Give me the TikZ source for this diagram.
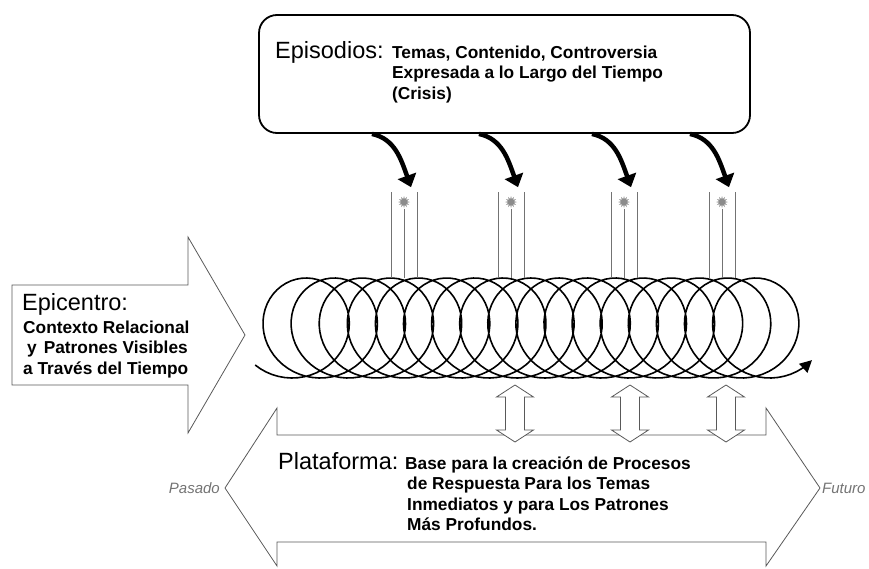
\documentclass[tikz,border=0pt]{standalone}
\usepackage{fontspec}
\setmainfont{Liberation Sans}
\usetikzlibrary{shapes.geometric,arrows.meta}

\begin{document}
\begin{tikzpicture}[x=1pt, y=-1pt,
    outline/.style={draw=black!65, line width=0.8pt},
    title/.style={inner sep=0pt, font=\fontsize{23.5}{26}\selectfont},
    body/.style={inner sep=0pt, font=\bfseries\fontsize{17.3}{20.5}\selectfont},
    tick/.style={draw=black!55, line width=0.8pt},
    burst/.style={star, star points=12, star point ratio=2, fill=black!45, minimum size=12pt, inner sep=0pt},
    hook/.style={line width=4.5pt, -{Triangle[length=12pt, width=19pt]}},
    side/.style={inner sep=0pt, text=black!55, font=\itshape\fontsize{15}{18}\selectfont}
]
    \useasboundingbox (0,0) rectangle (869,568);

    % platform and epicentre arrows
    \draw[outline] (225,488) -- (277,408) -- (277,435) -- (766,435) -- (766,408) -- (820,488)
        -- (766,566) -- (766,542) -- (277,542) -- (277,566) -- cycle;
    \draw[outline] (12,285) -- (188,285) -- (188,237) -- (245,335) -- (188,433) -- (188,385) -- (12,385) -- cycle;

    % episodes box
    \node[draw, line width=1.8pt, rounded corners=18pt, minimum width=491pt, minimum height=118pt] (box) at (504.5,74) {};
    \node[title, anchor=base west] (episodes) at (275,58) {Episodios:};
    \node[body, anchor=base west] (episodestext) at (392,58) {\setlength{\baselineskip}{23pt}\begin{tabular}[t]{@{}l@{}}Temas, Contenido, Controversia\\Expresada a lo Largo del Tiempo\\(Crisis)\end{tabular}};

    % coil
    \draw[line width=1.6pt, -{Triangle[length=12pt, width=12pt]}] plot[domain=-0.737:107.69, samples=900]
        ({292.1+4.472*\x+50*sin(\x r)}, {328+50*cos(\x r)});

    % crisis markers
    \node[burst] (burst1) at (404,202) {};
    \node[burst] (burst2) at (511,202) {};
    \node[burst] (burst3) at (624,202) {};
    \node[burst] (burst4) at (722,202) {};
    \draw[tick] (391,192) -- (391,278) (417,192) -- (417,278) (burst1) -- (404,278);
    \draw[tick] (498,192) -- (498,278) (524,192) -- (524,278) (burst2) -- (511,278);
    \draw[tick] (611,192) -- (611,278) (637,192) -- (637,278) (burst3) -- (624,278);
    \draw[tick] (709,192) -- (709,278) (735,192) -- (735,278) (burst4) -- (722,278);

    \draw[hook] ([xshift=-132.5pt]box.south) .. controls +(23,5) and +(-10,-28) .. ([shift={(7,-8)}]burst1.north);
    \draw[hook] ([xshift=-25.5pt]box.south) .. controls +(23,5) and +(-10,-28) .. ([shift={(7,-8)}]burst2.north);
    \draw[hook] ([xshift=87.5pt]box.south) .. controls +(23,5) and +(-10,-28) .. ([shift={(7,-8)}]burst3.north);
    \draw[hook] ([xshift=185.5pt]box.south) .. controls +(23,5) and +(-10,-28) .. ([shift={(7,-8)}]burst4.north);

    % response arrows
    \draw[outline, fill=white] (515,385) -- (533.5,397) -- (524.5,397) -- (524.5,430) -- (533.5,430) -- (515,442)
        -- (496.5,430) -- (505.5,430) -- (505.5,397) -- (496.5,397) -- cycle;
    \draw[outline, fill=white] (630,385) -- (648.5,397) -- (639.5,397) -- (639.5,430) -- (648.5,430) -- (630,442)
        -- (611.5,430) -- (620.5,430) -- (620.5,397) -- (611.5,397) -- cycle;
    \draw[outline, fill=white] (726,385) -- (744.5,397) -- (735.5,397) -- (735.5,430) -- (744.5,430) -- (726,442)
        -- (707.5,430) -- (716.5,430) -- (716.5,397) -- (707.5,397) -- cycle;

    % texts
    \node[title, anchor=base west] (epicentre) at (22,310) {Epicentro:};
    \node[body, anchor=base west] (epicentretext) at (23,333) {\begin{tabular}[t]{@{}l@{}}Contexto Relacional\\\hspace*{4pt}y\hspace{7pt}Patrones Visibles\\a Través del Tiempo\end{tabular}};
    \node[title, anchor=base west] (platform) at (278,469) {Plataforma:};
    \node[body, anchor=base west] (platformtext) at (405,469) {\begin{tabular}[t]{@{}l@{}}Base para la creación de Procesos\\\hspace*{2pt}de Respuesta Para los Temas\\\hspace*{2pt}Inmediatos y para Los Patrones\\\hspace*{2pt}Más Profundos.\end{tabular}};
    \node[side, anchor=east] (past) at (220,488) {Pasado};
    \node[side, anchor=west] (future) at (822,488) {Futuro};
\end{tikzpicture}
\end{document}
